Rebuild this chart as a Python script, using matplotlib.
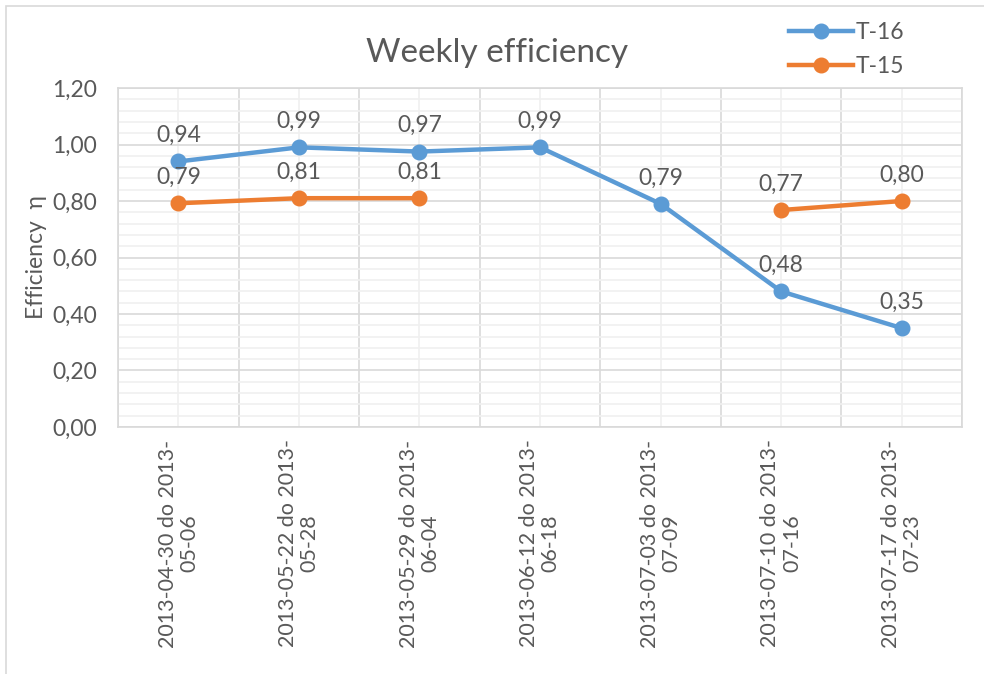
import numpy as np
import matplotlib.pyplot as plt
from matplotlib.ticker import MultipleLocator, FuncFormatter
from matplotlib.patches import Rectangle

# Data
weeks = ["2013-04-30 do 2013-\n05-06", "2013-05-22 do 2013-\n05-28",
         "2013-05-29 do 2013-\n06-04", "2013-06-12 do 2013-\n06-18",
         "2013-07-03 do 2013-\n07-09", "2013-07-10 do 2013-\n07-16",
         "2013-07-17 do 2013-\n07-23"]
t16 = [0.94, 0.99, 0.975, 0.99, 0.79, 0.48, 0.35]
t15 = [0.792, 0.81, 0.81, np.nan, np.nan, 0.768, 0.80]

blue = '#5B9BD5'
orange = '#ED7D31'
txt = '#595959'
fs = 16.5

plt.rcParams['font.family'] = ['Lato', 'DejaVu Sans']

fig = plt.figure(figsize=(9.84, 6.74), dpi=100)
ax = fig.add_axes([0.12, 0.3665, 0.8576, 0.5029])

# outer chart border
fig.patches.append(Rectangle((6 / 984, -0.1), 1.1, 1 - 6 / 674 + 0.1,
                             transform=fig.transFigure, fill=False,
                             edgecolor='#D9D9D9', linewidth=1.2))

x = np.arange(len(weeks))
ax.plot(x, t16, '-o', color=blue, lw=3.2, ms=10.5, label='T-16', zorder=3)
ax.plot(x, t15, '-o', color=orange, lw=3.2, ms=10.5, label='T-15', zorder=3)

for xi, v in zip(x, t16):
    ax.annotate(f"{v:.2f}".replace('.', ','), (xi, v), xytext=(0, 11),
                textcoords='offset points', ha='center', va='bottom',
                fontsize=fs, color=txt)
for xi, v in zip(x, t15):
    if not np.isnan(v):
        ax.annotate(f"{v:.2f}".replace('.', ','), (xi, v), xytext=(0, 11),
                    textcoords='offset points', ha='center', va='bottom',
                    fontsize=fs, color=txt)

ax.set_xlim(-0.5, len(weeks) - 0.5)
ax.set_ylim(0, 1.2)
ax.yaxis.set_major_locator(MultipleLocator(0.2))
ax.yaxis.set_minor_locator(MultipleLocator(0.04))
ax.yaxis.set_major_formatter(FuncFormatter(lambda v, p: f"{v:.2f}".replace('.', ',')))

ax.set_xticks(x)
ax.set_xticklabels(weeks, rotation=90, ha='center', va='top',
                   fontsize=15.5, color=txt, multialignment='center',
                   linespacing=1.1)
ax.set_xticks(np.arange(-0.5, len(weeks)), minor=True)

ax.grid(which='major', axis='y', color='#D9D9D9', lw=1.2)
ax.grid(which='minor', axis='y', color='#F0F0F0', lw=1.2)
ax.grid(which='minor', axis='x', color='#D9D9D9', lw=1.2)
ax.grid(which='major', axis='x', color='#F0F0F0', lw=1.2)
ax.set_axisbelow(True)
ax.tick_params(which='both', length=0)
ax.tick_params(axis='y', labelsize=fs, labelcolor=txt, pad=15)
ax.tick_params(axis='x', pad=9)
for s in ax.spines.values():
    s.set_color('#D9D9D9')
    s.set_linewidth(1.2)

ax.set_ylabel("Efficiency  η", fontsize=fs, color=txt, labelpad=4)
fig.text(0.505, 0.922, "Weekly efficiency", ha='center', va='center',
         fontsize=24, color=txt)

fig.legend(loc='upper right', bbox_to_anchor=(0.94, 0.998), frameon=False,
           fontsize=fs, labelcolor=txt, handlelength=2.8,
           handletextpad=0.1, labelspacing=0.55)

fig.savefig('out.png', dpi=100)
